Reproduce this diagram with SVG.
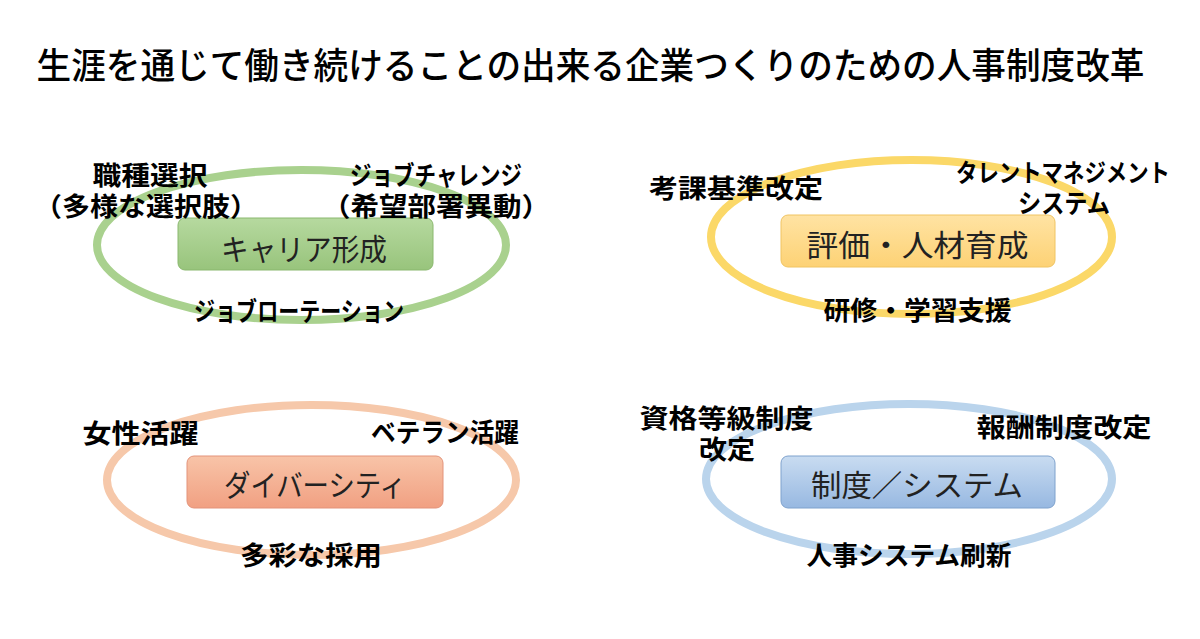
<svg xmlns="http://www.w3.org/2000/svg" width="1200" height="639" viewBox="0 0 1200 639">
<style>
text{font-family:'Noto Sans CJK JP','Noto Sans CJK SC',sans-serif;dominant-baseline:central;text-anchor:middle}
.title{font-size:36px;font-weight:500;fill:#000}
.lbl{font-size:26px;font-weight:700;fill:#000}
.box{font-size:30px;font-weight:400;fill:#222}
.ring{fill:none;stroke-width:8}
</style>
<defs>
<linearGradient id="gG" x1="0" y1="0" x2="0" y2="1"><stop offset="0" stop-color="#b6d99f"/><stop offset="1" stop-color="#98c47c"/></linearGradient>
<linearGradient id="gY" x1="0" y1="0" x2="0" y2="1"><stop offset="0" stop-color="#ffe3a3"/><stop offset="1" stop-color="#fdd275"/></linearGradient>
<linearGradient id="gS" x1="0" y1="0" x2="0" y2="1"><stop offset="0" stop-color="#f8c4a8"/><stop offset="1" stop-color="#f1a082"/></linearGradient>
<linearGradient id="gB" x1="0" y1="0" x2="0" y2="1"><stop offset="0" stop-color="#c9dcf1"/><stop offset="1" stop-color="#97b8e1"/></linearGradient>
</defs>
<rect width="1200" height="639" fill="#fff"/>
<text id="title" class="title" x="590.5" y="62.5" textLength="1108" lengthAdjust="spacingAndGlyphs">生涯を通じて働き続けることの出来る企業つくりのための人事制度改革</text>
<g id="connectors"/>
<g id="career">
<ellipse class="ring" cx="301.5" cy="245" rx="204.5" ry="75" stroke="#a9d18e"/>
<rect x="178" y="218" width="255" height="52" rx="7" fill="url(#gG)" stroke="#8ab86e" stroke-width="1"/>
<text class="box" x="304" y="246.5" textLength="166" lengthAdjust="spacingAndGlyphs">キャリア形成</text>
<text class="lbl" x="150" y="173.5" textLength="115" lengthAdjust="spacingAndGlyphs">職種選択</text>
<text class="lbl" x="146" y="204.5" textLength="224" lengthAdjust="spacingAndGlyphs">（多様な選択肢）</text>
<text class="lbl" x="436" y="173" textLength="172" lengthAdjust="spacingAndGlyphs">ジョブチャレンジ</text>
<text class="lbl" x="436" y="204.5" textLength="228" lengthAdjust="spacingAndGlyphs">（希望部署異動）</text>
<text class="lbl" x="299" y="309" textLength="210" lengthAdjust="spacingAndGlyphs">ジョブローテーション</text>
</g>
<g id="evaluation">
<ellipse class="ring" cx="911.5" cy="237" rx="200.5" ry="77" stroke="#fbd868"/>
<rect x="781" y="215" width="274" height="52" rx="7" fill="url(#gY)" stroke="#f0c463" stroke-width="1"/>
<text class="box" x="917.5" y="242.5" textLength="222" lengthAdjust="spacingAndGlyphs">評価・人材育成</text>
<text class="lbl" x="736" y="186.5" textLength="174" lengthAdjust="spacingAndGlyphs">考課基準改定</text>
<text class="lbl" x="1063" y="171" textLength="214" lengthAdjust="spacingAndGlyphs" style="font-size:25px">タレントマネジメント</text>
<text class="lbl" x="1064" y="201.5" textLength="92" lengthAdjust="spacingAndGlyphs">システム</text>
<text class="lbl" x="917.5" y="308.5" textLength="188" lengthAdjust="spacingAndGlyphs">研修・学習支援</text>
</g>
<g id="diversity">
<ellipse class="ring" cx="311.5" cy="480" rx="204.5" ry="75" stroke="#f6c8aa"/>
<rect x="187" y="456" width="256" height="52" rx="7" fill="url(#gS)" stroke="#e3937a" stroke-width="1"/>
<text class="box" x="315" y="482.5" textLength="182" lengthAdjust="spacingAndGlyphs">ダイバーシティ</text>
<text class="lbl" x="140.5" y="431" textLength="116" lengthAdjust="spacingAndGlyphs">女性活躍</text>
<text class="lbl" x="445" y="430" textLength="148" lengthAdjust="spacingAndGlyphs">ベテラン活躍</text>
<text class="lbl" x="311" y="553" textLength="142" lengthAdjust="spacingAndGlyphs">多彩な採用</text>
</g>
<g id="system">
<ellipse class="ring" cx="909" cy="479" rx="203" ry="75" stroke="#bad4ec"/>
<rect x="781" y="456" width="274" height="52" rx="7" fill="url(#gB)" stroke="#7fa2cd" stroke-width="1"/>
<text class="box" x="917" y="483" textLength="212" lengthAdjust="spacingAndGlyphs">制度／システム</text>
<text class="lbl" x="726.5" y="416" textLength="174" lengthAdjust="spacingAndGlyphs">資格等級制度</text>
<text class="lbl" x="727" y="447.5" textLength="56" lengthAdjust="spacingAndGlyphs">改定</text>
<text class="lbl" x="1064" y="425.5" textLength="175" lengthAdjust="spacingAndGlyphs">報酬制度改定</text>
<text class="lbl" x="909" y="553.5" textLength="205" lengthAdjust="spacingAndGlyphs">人事システム刷新</text>
</g>
</svg>
